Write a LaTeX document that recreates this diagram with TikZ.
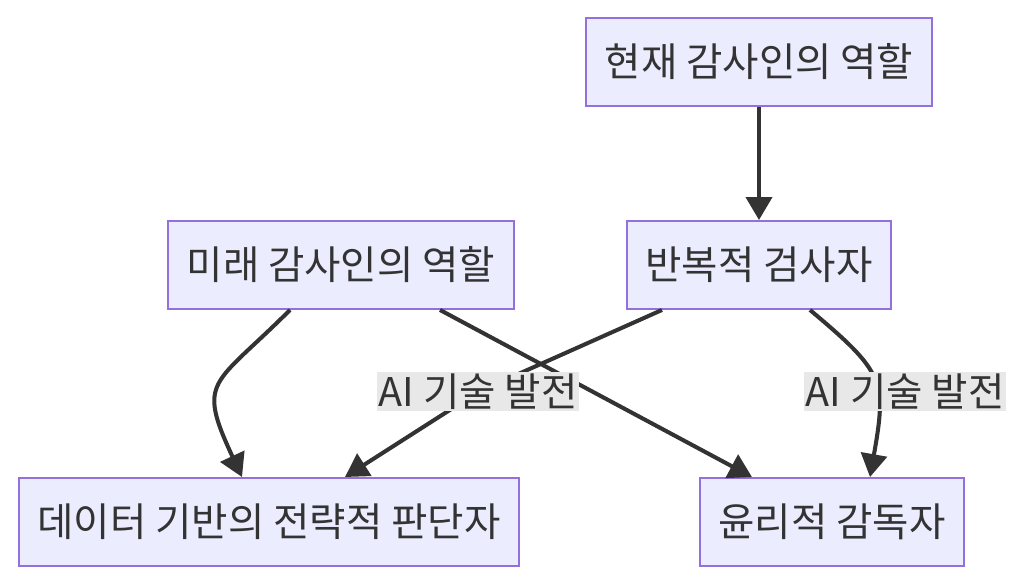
\documentclass[tikz,border=0pt]{standalone}
\usepackage{fontspec}
\setmainfont{Noto Sans CJK KR}
\usetikzlibrary{arrows.meta}
\definecolor{boxfill}{HTML}{ECECFF}
\definecolor{boxline}{HTML}{9370DB}
\definecolor{ink}{HTML}{333333}
\definecolor{lblfill}{HTML}{E8E8E8}
\begin{document}
\begin{tikzpicture} [-> , >={Triangle[length=0.46cm, width=0.52cm]}, line width = 2.3pt, color=ink, role/.style={draw=boxline, fill=boxfill, line width=1.1pt, minimum height=1.76cm, inner xsep=0.37cm, text=ink, font=\fontsize{22.5}{26}\selectfont}, lbl/.style={fill=lblfill, minimum height=0.78cm, inner xsep=1pt, inner ysep=0pt, text=ink, font=\fontsize{22.5}{26}\selectfont}]

\useasboundingbox (0,0) rectangle (20.48,-11.7);

\node at (15.18,-1.24) [role] (now) {현재 감사인의 역할};
\node at (15.18,-5.30) [role] (rep) {반복적 검사자};
\node at (6.82,-5.30) [role] (fut) {미래 감사인의 역할};
\node at (5.38,-10.44) [role] (data) {데이터 기반의 전략적 판단자};
\node at (16.64,-10.44) [role] (eth) {윤리적 감독자};

\path (now) edge (rep);
\path ([xshift=-1.02cm]fut.south) edge [out=-135, in=115, looseness=1.6] ([xshift=-0.54cm]data.north);
\path ([xshift=1.98cm]fut.south) edge ([xshift=-1.6cm]eth.north);

\coordinate (bendA) at (9.56,-7.84);
\draw ([xshift=-1.94cm]rep.south) -- (bendA) -- ([xshift=1.52cm]data.north);
\path ([xshift=1.02cm]rep.south) edge [out=-40, in=80, looseness=1.4] ([xshift=0.76cm]eth.north);

\node at (bendA) [lbl] (lblA) {AI 기술 발전};
\node at (18.10,-7.84) [lbl] (lblB) {AI 기술 발전};

\end{tikzpicture}
\end{document}
